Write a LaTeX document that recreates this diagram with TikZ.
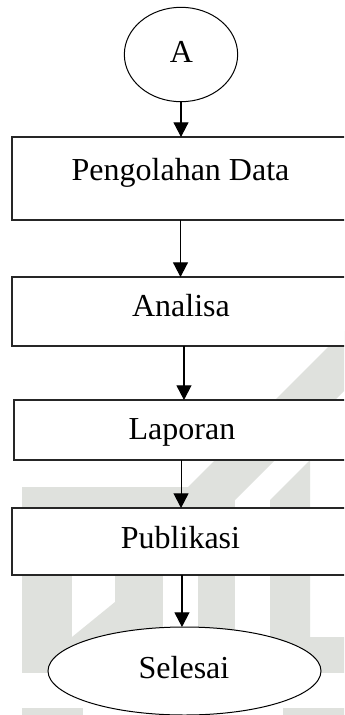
\documentclass[tikz,border=0pt]{standalone}
\usepackage{fontspec}
\setmainfont{Liberation Serif}
\usetikzlibrary{arrows.meta,shapes.geometric}
\definecolor{wmgray}{RGB}{223,225,221}
\tikzset{
  stepbox/.style={draw=black!85, line width=0.9pt, fill=white, rectangle,
    inner sep=0pt, outer sep=0pt},
  terminal/.style={draw=black, line width=0.75pt, fill=white, ellipse,
    inner sep=0pt, outer sep=0pt},
  lbl/.style={anchor=base, inner sep=0pt, font=\fontsize{24}{28}\selectfont},
  arr/.style={draw=black, line width=0.8pt,
    -{Triangle[width=11.25pt,length=11pt]}},
  wm/.style={fill=wmgray, draw=none}
}
\begin{document}
\begin{tikzpicture}[x=0.75pt, y=-0.75pt]
  \useasboundingbox (0,0) rectangle (344,715);
  \clip (0,0) rectangle (344,715);
  \fill[white] (0,0) rectangle (344,715);

  % faint background logo
  \fill[wm] (22,487) -- (188,487) -- (350,325) -- (350,385) -- (227,508)
            -- (22,508) -- cycle;
  \fill[wm] (270,500) -- (310,460) -- (310,673) -- (270,673) -- cycle;
  \fill[wm] (22,487) rectangle (72,673);
  \fill[wm] (72,637) -- (115,602) -- (115,673) -- (72,673) -- cycle;
  \fill[wm] (115,500) rectangle (163,673);
  \fill[wm] (198,500) rectangle (235,673);
  \fill[wm] (22,637) rectangle (350,673);
  \fill[wm] (22,708) rectangle (83,720);
  \fill[wm] (283,708) rectangle (350,720);

  % flow shapes
  \node[terminal, minimum width=85pt, minimum height=70.8pt] (A) at (181,54.5) {};
  \node[lbl] (tA) at (181.5,62) {A};

  \node[stepbox, minimum width=252.75pt, minimum height=62.25pt] (b1) at (180.5,178.5) {};
  \node[lbl] (t1) at (180.5,180) {Pengolahan Data};

  \node[stepbox, minimum width=252.75pt, minimum height=51.75pt] (b2) at (180.5,311.5) {};
  \node[lbl] (t2) at (181,316) {Analisa};

  \node[stepbox, minimum width=249.75pt, minimum height=45pt] (b3) at (180.5,430) {};
  \node[lbl] (t3) at (182,439) {Laporan};

  \node[stepbox, minimum width=252.75pt, minimum height=50.25pt] (b4) at (180.5,541.5) {};
  \node[lbl] (t4) at (180.5,548) {Publikasi};

  \node[terminal, minimum width=204.75pt, minimum height=66pt] (S) at (184.5,671) {};
  \node[lbl] (t5) at (184,678) {Selesai};

  % connectors
  \draw[arr] (A.south) -- (A.south |- b1.north);
  \draw[arr] (b1.south) -- (b1.south |- b2.north);
  \draw[arr] ([xshift=2.6pt]b2.south) -- ([xshift=2.6pt]b2.south |- b3.north);
  \draw[arr] ([xshift=0.4pt]b3.south) -- ([xshift=0.4pt]b3.south |- b4.north);
  \draw[arr] ([xshift=1.1pt]b4.south) -- ([xshift=1.1pt]b4.south |- S.north);
\end{tikzpicture}
\end{document}
